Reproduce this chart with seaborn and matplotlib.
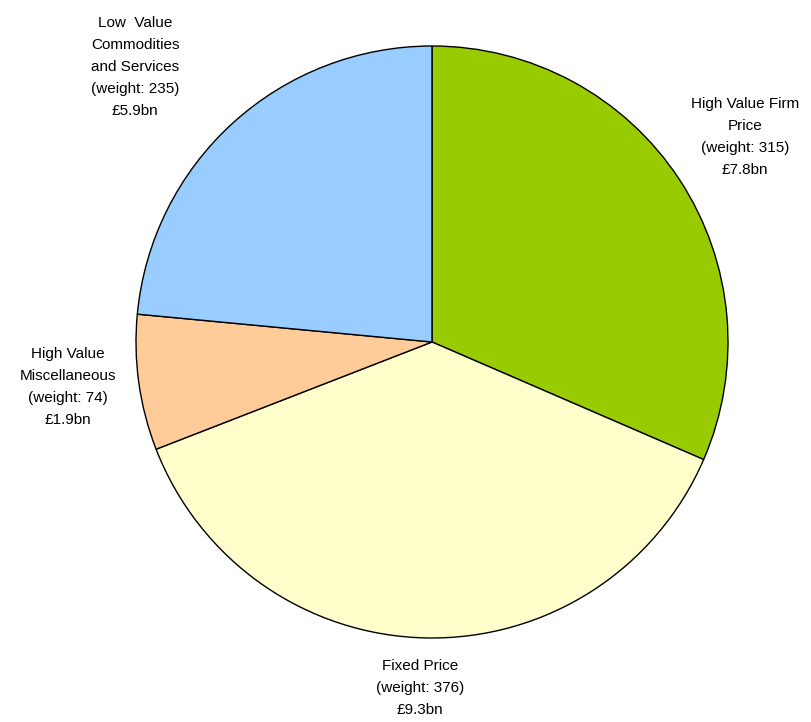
import matplotlib
matplotlib.use("Agg")
import matplotlib.pyplot as plt
import seaborn as sns

sns.set_theme(style="white")
plt.rcParams['font.family'] = ['Liberation Sans', 'DejaVu Sans']

categories = ["High Value Firm\nPrice", "Fixed Price", "High Value\nMiscellaneous",
              "Low  Value\nCommodities\nand Services"]
weights = [315, 376, 74, 235]
values_bn = ["£7.8bn", "£9.3bn", "£1.9bn", "£5.9bn"]
colors = ["#99CC00", "#FFFFCC", "#FFCC99", "#99CCFF"]

W, H = 811, 722
fig = plt.figure(figsize=(W / 100, H / 100), dpi=100)
ax = fig.add_axes([0, 0, 1, 1])
ax.set_xlim(0, W)
ax.set_ylim(0, H)
ax.set_aspect("equal")
ax.axis("off")

cx, cy, r = 432, H - 342, 296
ax.pie(weights, colors=colors, startangle=90, counterclock=False,
       center=(cx, cy), radius=r, frame=True,
       wedgeprops=dict(edgecolor="black", linewidth=1.0))
ax.set_xlim(0, W)
ax.set_ylim(0, H)
ax.axis("off")

label_pos = [(745, H - 137), (420, H - 688), (68, H - 387), (135, H - 67)]
for cat, w, v, (x, y) in zip(categories, weights, values_bn, label_pos):
    ax.text(x, y, f"{cat}\n(weight: {w})\n{v}", ha="center", va="center",
            fontsize=11, linespacing=1.72, color="black")

fig.savefig("out.png", dpi=100)
